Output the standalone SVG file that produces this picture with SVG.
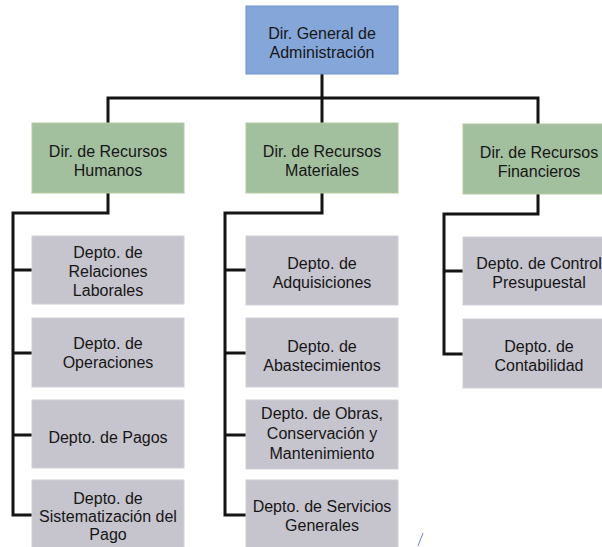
<svg xmlns="http://www.w3.org/2000/svg" width="602" height="547" viewBox="0 0 602 547">
<style>
  .top{fill:#84a6d9;stroke:#6f93cc;stroke-width:1}
  .dir{fill:#a2bf9e;stroke:#b7c9a4;stroke-width:1}
  .dep{fill:#c6c4cd;stroke:#d2d0d6;stroke-width:1}
  text{font-family:"Liberation Sans",Arial,sans-serif;font-size:16px;fill:#161616;text-anchor:middle}
  .ln{fill:none;stroke:#141414;stroke-width:3;stroke-linejoin:miter;stroke-linecap:square}
</style>
<rect width="602" height="547" fill="#ffffff"/>
<g id="connectors">
  <path class="ln" d="M322,74 V98 M108,123 V98 H538 V125"/>
  <path class="ln" d="M322,98 V123"/>
  <path class="ln" d="M108,193 V213 H13 V515 H32 M13,270 H32 M13,353 H32 M13,435 H32"/>
  <path class="ln" d="M322,193 V213 H225 V515 H246 M225,270 H246 M225,353 H246 M225,435 H246"/>
  <path class="ln" d="M538,194 V214 H444 V354 H463 M444,271 H463"/>
</g>
<g id="n-general">
  <rect class="top" x="246" y="6" width="152" height="68"/>
  <text x="322" y="38.5">Dir. General de</text>
  <text x="322" y="57.5">Administración</text>
</g>
<g id="n-rh">
  <rect class="dir" x="32" y="123" width="152" height="70"/>
  <text x="108" y="157">Dir. de Recursos</text>
  <text x="108" y="175.5">Humanos</text>
</g>
<g id="n-rm">
  <rect class="dir" x="246" y="123" width="152" height="70"/>
  <text x="322" y="157">Dir. de Recursos</text>
  <text x="322" y="175.5">Materiales</text>
</g>
<g id="n-rf">
  <rect class="dir" x="463" y="124" width="152" height="70"/>
  <text x="539" y="158">Dir. de Recursos</text>
  <text x="539" y="176.5">Financieros</text>
</g>
<g id="n-rl">
  <rect class="dep" x="32" y="236" width="152" height="68"/>
  <text x="108" y="258">Depto. de</text>
  <text x="108" y="277">Relaciones</text>
  <text x="108" y="296">Laborales</text>
</g>
<g id="n-op">
  <rect class="dep" x="32" y="318" width="152" height="69"/>
  <text x="108" y="349">Depto. de</text>
  <text x="108" y="368">Operaciones</text>
</g>
<g id="n-pa">
  <rect class="dep" x="32" y="400" width="152" height="68"/>
  <text x="108" y="443">Depto. de Pagos</text>
</g>
<g id="n-si">
  <rect class="dep" x="32" y="480" width="152" height="68"/>
  <text x="108" y="504">Depto. de</text>
  <text x="108" y="522">Sistematización del</text>
  <text x="108" y="540">Pago</text>
</g>
<g id="n-ad">
  <rect class="dep" x="246" y="236" width="152" height="69"/>
  <text x="322" y="269">Depto. de</text>
  <text x="322" y="288">Adquisiciones</text>
</g>
<g id="n-ab">
  <rect class="dep" x="246" y="318" width="152" height="69"/>
  <text x="322" y="352">Depto. de</text>
  <text x="322" y="370.5">Abastecimientos</text>
</g>
<g id="n-ob">
  <rect class="dep" x="246" y="400" width="152" height="69"/>
  <text x="322" y="419">Depto. de Obras,</text>
  <text x="322" y="439">Conservación y</text>
  <text x="322" y="459">Mantenimiento</text>
</g>
<g id="n-sg">
  <rect class="dep" x="246" y="480" width="152" height="68"/>
  <text x="322" y="512">Depto. de Servicios</text>
  <text x="322" y="531">Generales</text>
</g>
<g id="n-cp">
  <rect class="dep" x="463" y="237" width="152" height="68"/>
  <text x="539" y="269">Depto. de Control</text>
  <text x="539" y="287.5">Presupuestal</text>
</g>
<g id="n-co">
  <rect class="dep" x="463" y="319" width="152" height="69"/>
  <text x="539" y="352">Depto. de</text>
  <text x="539" y="370.5">Contabilidad</text>
</g>
<path d="M423,533 L418,546" stroke="#6f84d2" stroke-width="1" fill="none"/>
</svg>
